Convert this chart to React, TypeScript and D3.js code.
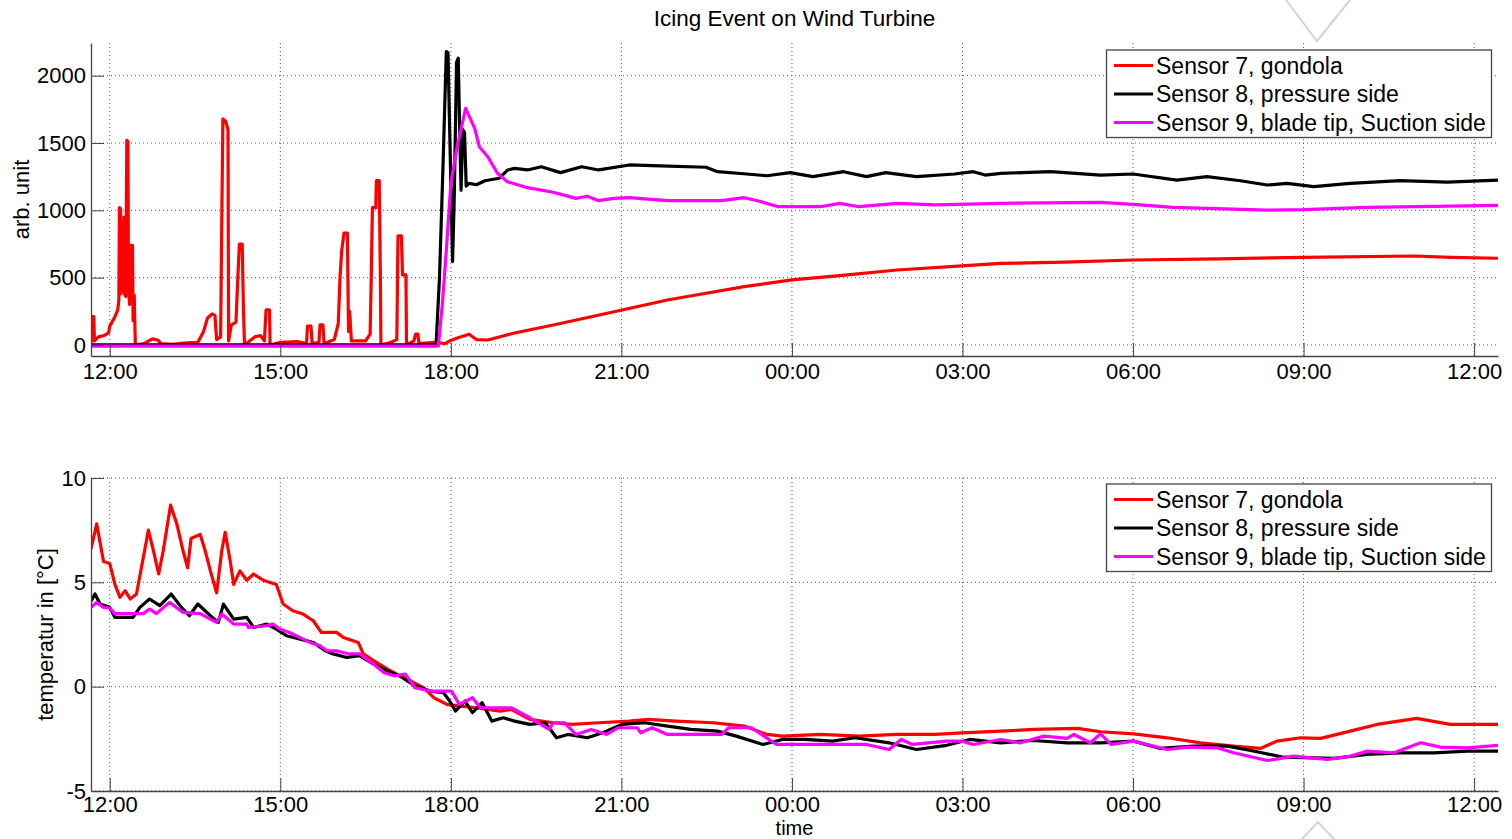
import * as d3 from 'd3';
import React, { useEffect, useRef } from 'react';

// [hours since 12:00 of day 1, value]
type Pt = [number, number];

const timeTickHours = [0, 3, 6, 9, 12, 15, 18, 21, 24];
const timeTickLabels = ['12:00', '15:00', '18:00', '21:00', '00:00', '03:00', '06:00', '09:00', '12:00'];
const arbTicks = [0, 500, 1000, 1500, 2000];
const tempTicks = [-5, 0, 5, 10];
const seriesNames = ['Sensor 7, gondola', 'Sensor 8, pressure side', 'Sensor 9, blade tip, Suction side'];

// upper panel, arb. unit
const sensor7Arb: Pt[] = [
  [-0.33, 0], [-0.32, 210], [-0.28, 210], [-0.27, 30], [-0.2, 60], [-0.1, 70], [-0.02, 90], [0.0, 140],
  [0.08, 200], [0.14, 260], [0.16, 330], [0.17, 1020], [0.19, 1010], [0.2, 380], [0.22, 720], [0.23, 400],
  [0.25, 950], [0.26, 380], [0.28, 360], [0.3, 1520], [0.32, 1510], [0.33, 400], [0.35, 300], [0.36, 740],
  [0.4, 740], [0.41, 180], [0.43, 370], [0.45, 0], [0.6, 10], [0.75, 45], [0.85, 35], [0.9, 10], [1.1, 5],
  [1.35, 15], [1.55, 20], [1.65, 100], [1.72, 200], [1.8, 230], [1.85, 220], [1.88, 40], [1.95, 60],
  [1.97, 900], [1.99, 1680], [2.04, 1660], [2.08, 1600], [2.09, 30], [2.14, 150], [2.22, 170], [2.25, 470],
  [2.28, 750], [2.33, 750], [2.35, 300], [2.37, 0], [2.55, 60], [2.65, 70], [2.72, 30], [2.75, 260],
  [2.81, 260], [2.82, 0], [3.0, 20], [3.3, 25], [3.46, 10], [3.48, 140], [3.54, 140], [3.56, 10], [3.68, 20],
  [3.7, 150], [3.75, 150], [3.77, 10], [3.95, 40], [4.02, 160], [4.05, 500], [4.08, 700], [4.12, 830],
  [4.18, 830], [4.2, 100], [4.22, 250], [4.25, 30], [4.5, 30], [4.58, 80], [4.6, 500], [4.62, 1020],
  [4.68, 1020], [4.69, 1220], [4.74, 1220], [4.76, 520], [4.77, 0], [4.95, 20], [5.05, 40], [5.07, 810],
  [5.13, 810], [5.15, 520], [5.21, 520], [5.22, 0], [5.35, 30], [5.38, 80], [5.42, 80], [5.44, 10],
  [5.7, 20], [5.9, 10], [5.98, 30], [6.1, 50], [6.32, 80], [6.45, 40], [6.65, 37], [7.12, 89], [7.8, 148],
  [8.47, 210], [9.01, 260], [9.81, 334], [10.49, 384], [11.16, 433], [12.0, 483], [12.84, 515],
  [13.85, 557], [14.99, 587], [15.67, 606], [16.8, 615], [18.0, 631], [19.5, 640], [21.0, 651],
  [22.94, 661], [23.6, 650], [24.42, 644],
];

const sensor8Arb: Pt[] = [
  [-0.33, 0], [5.74, 0], [5.8, 500], [5.86, 1300], [5.92, 2180], [5.95, 2170], [6.0, 1200], [6.03, 620],
  [6.06, 1100], [6.1, 2100], [6.13, 2130], [6.16, 1500], [6.18, 1150], [6.21, 1600], [6.24, 1580],
  [6.27, 1180], [6.32, 1200], [6.45, 1190], [6.6, 1220], [6.85, 1238], [7.0, 1300], [7.12, 1312],
  [7.35, 1300], [7.59, 1324], [7.93, 1280], [8.3, 1324], [8.6, 1300], [9.14, 1337], [9.68, 1330],
  [10.49, 1320], [10.69, 1287], [11.2, 1270], [11.56, 1257], [11.97, 1280], [12.37, 1250], [12.91, 1287],
  [13.31, 1250], [13.65, 1280], [14.19, 1250], [14.86, 1270], [15.19, 1287], [15.4, 1262], [15.67, 1275],
  [16.55, 1287], [17.43, 1262], [18.0, 1270], [18.77, 1225], [19.3, 1250], [19.89, 1220], [20.36, 1188],
  [20.71, 1200], [21.18, 1176], [21.82, 1200], [22.7, 1220], [23.53, 1210], [24.42, 1225],
];

const sensor9Arb: Pt[] = [
  [-0.33, -8], [5.78, -8], [5.85, 300], [5.92, 700], [6.0, 1200], [6.1, 1450], [6.26, 1758], [6.42, 1609],
  [6.5, 1473], [6.65, 1398], [6.82, 1275], [6.99, 1213], [7.32, 1171], [7.8, 1134], [8.2, 1089],
  [8.4, 1105], [8.6, 1072], [8.87, 1089], [9.14, 1094], [9.81, 1072], [10.76, 1072], [11.16, 1094],
  [11.43, 1067], [11.76, 1027], [12.5, 1027], [12.84, 1052], [13.18, 1027], [13.85, 1052], [14.52, 1040],
  [15.67, 1052], [17.43, 1059], [18.0, 1045], [18.7, 1022], [20.36, 1002], [21.0, 1005], [22.12, 1022],
  [23.29, 1030], [24.42, 1037],
];

// lower panel, temperature
const sensor7Temp: Pt[] = [
  [-0.33, 6.6], [-0.23, 7.8], [-0.11, 6.0], [0.0, 5.9], [0.09, 4.9], [0.18, 4.28], [0.27, 4.6], [0.36, 4.2],
  [0.47, 4.44], [0.68, 7.5], [0.77, 6.5], [0.86, 5.4], [0.94, 6.5], [1.07, 8.7], [1.18, 7.8], [1.29, 6.5],
  [1.37, 5.7], [1.43, 7.1], [1.59, 7.3], [1.68, 6.5], [1.77, 5.55], [1.88, 4.5], [1.97, 6.5], [2.03, 7.4],
  [2.12, 6.0], [2.18, 4.9], [2.29, 5.55], [2.41, 5.1], [2.53, 5.4], [2.7, 5.1], [2.93, 4.9], [3.05, 3.96],
  [3.22, 3.64], [3.4, 3.48], [3.58, 3.16], [3.72, 2.6], [3.99, 2.6], [4.11, 2.36], [4.37, 2.12],
  [4.46, 1.57], [4.64, 1.25], [4.88, 0.85], [5.05, 0.6], [5.29, 0.27], [5.52, -0.05], [5.7, -0.53],
  [5.93, -0.85], [6.17, -0.93], [6.4, -1.0], [6.87, -1.17], [7.06, -1.09], [7.39, -1.57], [7.8, -1.73],
  [8.13, -1.81], [8.6, -1.73], [9.14, -1.65], [9.48, -1.57], [9.95, -1.65], [10.62, -1.73], [11.16, -1.89],
  [11.56, -2.29], [11.83, -2.37], [12.5, -2.29], [13.18, -2.37], [13.85, -2.29], [14.52, -2.29],
  [14.99, -2.21], [15.67, -2.13], [16.25, -2.05], [17.02, -2.0], [17.43, -2.16], [18.01, -2.26],
  [18.6, -2.45], [19.19, -2.69], [19.77, -2.85], [20.24, -2.96], [20.53, -2.61], [20.95, -2.45],
  [21.3, -2.48], [21.82, -2.13], [22.29, -1.81], [22.99, -1.52], [23.58, -1.81], [24.42, -1.81],
];

const sensor8Temp: Pt[] = [
  [-0.33, 4.1], [-0.26, 4.44], [-0.17, 3.96], [0.0, 3.8], [0.09, 3.32], [0.41, 3.32], [0.53, 3.8],
  [0.7, 4.2], [0.88, 3.88], [1.08, 4.44], [1.26, 3.8], [1.4, 3.4], [1.55, 3.96], [1.77, 3.4], [1.91, 3.08],
  [2.0, 3.96], [2.18, 3.24], [2.41, 3.32], [2.53, 2.84], [2.76, 3.0], [2.93, 2.76], [3.11, 2.44],
  [3.35, 2.28], [3.58, 2.12], [3.79, 1.72], [3.93, 1.57], [4.17, 1.4], [4.4, 1.48], [4.64, 1.08],
  [4.88, 0.75], [5.11, 0.5], [5.37, 0.03], [5.64, -0.21], [5.87, -0.29], [5.98, -0.69], [6.08, -1.17],
  [6.25, -0.69], [6.38, -1.25], [6.55, -0.77], [6.72, -1.65], [6.92, -1.49], [7.12, -1.65], [7.39, -1.81],
  [7.66, -1.73], [7.86, -2.45], [8.06, -2.29], [8.4, -2.45], [8.67, -2.21], [9.01, -1.81], [9.41, -1.73],
  [9.81, -1.89], [10.22, -2.05], [10.69, -2.13], [11.02, -2.37], [11.49, -2.77], [11.83, -2.53],
  [12.23, -2.53], [12.71, -2.61], [13.11, -2.45], [13.71, -2.69], [14.19, -3.01], [14.72, -2.81],
  [15.13, -2.53], [15.67, -2.69], [16.25, -2.58], [16.84, -2.69], [17.43, -2.69], [18.01, -2.61],
  [18.48, -2.96], [19.07, -2.85], [19.66, -2.85], [20.07, -3.06], [20.65, -3.38], [21.53, -3.44],
  [22.12, -3.25], [22.7, -3.17], [23.29, -3.17], [23.88, -3.09], [24.42, -3.09],
];

const sensor9Temp: Pt[] = [
  [-0.33, 3.8], [-0.23, 4.04], [-0.11, 3.8], [0.0, 3.77], [0.09, 3.5], [0.59, 3.5], [0.7, 3.72],
  [0.82, 3.5], [1.05, 4.04], [1.29, 3.56], [1.59, 3.5], [1.88, 3.08], [1.97, 3.48], [2.18, 3.0],
  [2.41, 3.0], [2.44, 2.84], [2.76, 2.92], [2.87, 3.0], [2.99, 2.76], [3.16, 2.6], [3.52, 2.12],
  [3.7, 1.96], [3.82, 1.72], [3.99, 1.72], [4.17, 1.59], [4.4, 1.57], [4.64, 1.08], [4.82, 0.68],
  [5.0, 0.52], [5.2, 0.6], [5.37, -0.05], [5.64, -0.21], [6.01, -0.21], [6.15, -0.85], [6.38, -0.53],
  [6.52, -1.01], [7.06, -1.01], [7.39, -1.49], [7.73, -2.05], [7.8, -1.73], [8.0, -1.73], [8.2, -2.29],
  [8.47, -2.05], [8.74, -2.29], [8.94, -1.97], [9.28, -1.97], [9.34, -2.21], [9.54, -1.97], [9.81, -2.29],
  [10.76, -2.29], [10.89, -1.97], [11.29, -1.97], [11.73, -2.77], [13.31, -2.77], [13.71, -3.01],
  [13.92, -2.53], [14.12, -2.77], [14.72, -2.61], [14.99, -2.61], [15.19, -2.77], [15.67, -2.53],
  [16.02, -2.69], [16.43, -2.37], [16.84, -2.48], [16.96, -2.29], [17.25, -2.69], [17.43, -2.26],
  [17.61, -2.77], [18.01, -2.61], [18.6, -3.01], [18.95, -2.9], [19.48, -2.93], [19.77, -3.17],
  [20.36, -3.54], [20.83, -3.33], [21.13, -3.41], [21.42, -3.49], [21.83, -3.33], [22.12, -3.09],
  [22.59, -3.17], [23.06, -2.69], [23.41, -2.9], [23.88, -2.93], [24.42, -2.81],
];

const colors = ['#ff0000', '#000000', '#ff00ff'];

const App: React.FC = () => {
  const svgRef = useRef<SVGSVGElement | null>(null);

  useEffect(() => {
    const svg = d3.select(svgRef.current);
    svg.selectAll('*').remove();

    const left = 91;
    const right = 1498;
    const font = '"Liberation Sans", Arial, Helvetica, sans-serif';
    const axisColor = '#444';
    const gridColor = '#555';

    const base = new Date(2013, 1, 1, 12, 0, 0).getTime();
    const toDate = (h: number) => new Date(base + h * 3600 * 1000);

    const x = d3
      .scaleTime()
      .domain([toDate(-0.33), toDate(24.42)])
      .range([left, right]);

    const panels = [
      { top: 43, bottom: 356, domain: [-82, 2243], ticks: arbTicks, label: 'arb. unit', labelX: 29, legendTop: 50, series: [sensor7Arb, sensor8Arb, sensor9Arb], pad: 7 },
      { top: 478, bottom: 791, domain: [-5, 10], ticks: tempTicks, label: 'temperatur in [°C]', labelX: 52.5, legendTop: 484, series: [sensor7Temp, sensor8Temp, sensor9Temp], pad: 5 },
    ];

    // watermark chevrons present in the screenshot
    svg.append('polyline').attr('points', '1286,0 1317,41 1350,0').attr('fill', 'none').attr('stroke', '#d4d4d4').attr('stroke-width', 2);
    svg.append('polyline').attr('points', '1301,840 1318,822 1335,840').attr('fill', 'none').attr('stroke', '#d4d4d4').attr('stroke-width', 2);

    svg
      .append('text')
      .attr('x', (left + right) / 2)
      .attr('y', 26)
      .attr('text-anchor', 'middle')
      .attr('font-family', font)
      .attr('font-size', 22.5)
      .text('Icing Event on Wind Turbine');

    panels.forEach((p, pi) => {
      const y = d3.scaleLinear().domain(p.domain).range([p.bottom, p.top]);
      const g = svg.append('g');

      // grid
      g.append('g')
        .selectAll('line')
        .data(timeTickHours)
        .join('line')
        .attr('x1', (d) => x(toDate(d)))
        .attr('x2', (d) => x(toDate(d)))
        .attr('y1', p.top)
        .attr('y2', p.bottom)
        .attr('stroke', gridColor)
        .attr('stroke-dasharray', '1,3');
      g.append('g')
        .selectAll('line')
        .data(p.ticks)
        .join('line')
        .attr('x1', left)
        .attr('x2', right)
        .attr('y1', (d) => y(d))
        .attr('y2', (d) => y(d))
        .attr('stroke', gridColor)
        .attr('stroke-dasharray', '1,3');

      const clipId = `clip-${pi}`;
      svg
        .append('clipPath')
        .attr('id', clipId)
        .append('rect')
        .attr('x', left)
        .attr('y', p.top - 2)
        .attr('width', right - left)
        .attr('height', p.bottom - p.top + 4);

      const line = d3
        .line<Pt>()
        .x((d) => x(toDate(d[0])))
        .y((d) => y(d[1]));

      p.series.forEach((s, i) => {
        g.append('path')
          .datum(s)
          .attr('clip-path', `url(#${clipId})`)
          .attr('fill', 'none')
          .attr('stroke', colors[i])
          .attr('stroke-width', 3.2)
          .attr('stroke-linejoin', 'round')
          .attr('d', line);
      });

      // axes
      const xAxis = g
        .append('g')
        .attr('transform', `translate(0,${p.bottom})`)
        .call(
          d3
            .axisBottom(x)
            .tickValues(timeTickHours.map(toDate))
            .tickFormat((_, i) => timeTickLabels[i])
            .tickSizeInner(-13)
            .tickSizeOuter(0)
            .tickPadding(p.pad),
        );
      const yAxis = g
        .append('g')
        .attr('transform', `translate(${left},0)`)
        .call(
          d3
            .axisLeft(y)
            .tickValues(p.ticks)
            .tickFormat((d) => String(d))
            .tickSizeInner(-13)
            .tickSizeOuter(0)
            .tickPadding(5),
        );

      [xAxis, yAxis].forEach((a) => {
        a.attr('color', axisColor).attr('font-family', font).attr('font-size', 22);
        a.select('.domain').attr('stroke-width', 1.3);
        a.selectAll('text').attr('fill', '#000');
      });

      g.append('text')
        .attr('transform', `translate(${p.labelX},${(p.top + p.bottom) / 2}) rotate(-90)`)
        .attr('text-anchor', 'middle')
        .attr('font-family', font)
        .attr('font-size', 22)
        .text(p.label);

      // legend
      const lg = g.append('g').attr('transform', `translate(1106.5,${p.legendTop})`);
      lg.append('rect')
        .attr('width', 385)
        .attr('height', 87.5)
        .attr('fill', '#fff')
        .attr('stroke', axisColor)
        .attr('stroke-width', 1.3);
      seriesNames.forEach((name, i) => {
        const ry = 15.5 + i * 28.5;
        lg.append('line')
          .attr('x1', 7.5)
          .attr('x2', 46.5)
          .attr('y1', ry)
          .attr('y2', ry)
          .attr('stroke', colors[i])
          .attr('stroke-width', 3);
        lg.append('text')
          .attr('x', 49.5)
          .attr('y', ry)
          .attr('dy', '0.35em')
          .attr('font-family', font)
          .attr('font-size', 23)
          .text(name);
      });
    });

    svg
      .append('text')
      .attr('x', (left + right) / 2)
      .attr('y', 834.5)
      .attr('text-anchor', 'middle')
      .attr('font-family', font)
      .attr('font-size', 20)
      .text('time');
  }, []);

  return (
    <svg
      ref={svgRef}
      width={1512}
      height={839}
      style={{ position: 'absolute', left: 0, top: 0, background: '#fff' }}
    ></svg>
  );
};

export default App;
